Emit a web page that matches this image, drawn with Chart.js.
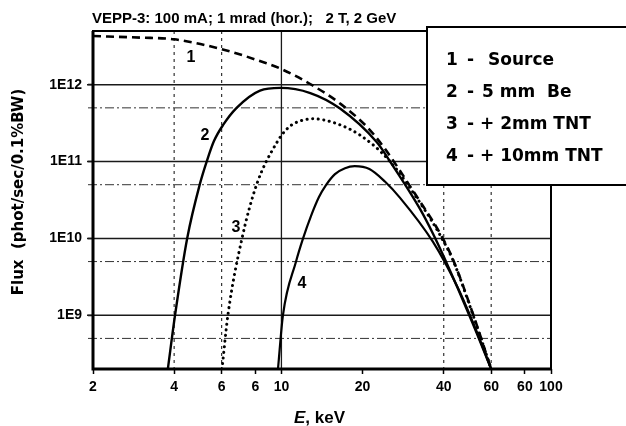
<!DOCTYPE html>
<html><head><meta charset="utf-8">
<script src="https://cdn.jsdelivr.net/npm/chart.js@4.4.1/dist/chart.umd.min.js"></script>
<style>html,body{margin:0;padding:0;background:#fff}canvas{display:block}</style>
</head><body>
<canvas id="c" width="626" height="426"></canvas>
<script>
// ---- text ----
const titleText = 'VEPP-3: 100 mA; 1 mrad (hor.);   2 T, 2 GeV';
const yTitle = 'Flux  (phot/sec/0.1%BW)';
const xTitleItalic = 'E';
const xTitleRest = ', keV';
const xTickValues = [2, 4, 6, 8, 10, 20, 40, 60, 80, 100];
const xTickLabels = ['2', '4', '6', '6', '10', '20', '40', '60', '60', '100'];
const yMajorTicks = [1e9, 1e10, 1e11, 1e12];
const yMajorLabels = ['1E9', '1E10', '1E11', '1E12'];
const yMinorGrid = [5e8, 5e9, 5e10, 5e11];
const xSolidGrid = [10];
const xDashGrid = [4, 6, 40, 60];
const legendNums = ['1', '2', '3', '4'];
const legendTexts = ['Source', '5 mm  Be', '+ 2mm TNT', '+ 10mm TNT'];
const curveNums = ['1', '2', '3', '4'];

// ---- data (E in keV, flux in phot/sec/0.1%BW) ----
const e1 = [2, 3, 4, 6, 8.8, 10, 13.1, 16.5, 21.9, 32.7, 39.4, 43.3, 51.4, 60];
const f1 = [4.3e12, 4.1e12, 3.9e12, 2.9e12, 1.9e12, 1.6e12, 9.7e11, 5.7e11, 2.3e11, 3.0e10, 1.05e10, 5.3e9, 1.03e9, 2.0e8];
const e2 = [3.79, 4.03, 4.47, 4.99, 5.3, 5.62, 6.07, 6.82, 8.33, 9.9, 12.8, 16.5, 22.6, 25.3, 32.7, 36.5, 40, 50.9, 60];
const f2 = [2.0e8, 1.0e9, 1.0e10, 5.2e10, 1.04e11, 1.85e11, 2.98e11, 5.0e11, 8.4e11, 9.1e11, 7.8e11, 4.9e11, 1.78e11, 1.0e11, 2.4e10, 1.15e10, 5.8e9, 8.3e8, 2.0e8];
const e3 = [6.02, 6.33, 7.14, 8.12, 9.63, 10.3, 11.04, 13.1, 16.1, 19.6, 25, 32.7, 39.4, 43.3, 51.4, 60];
const f3 = [2.0e8, 1.0e9, 1.0e10, 5.2e10, 1.79e11, 2.49e11, 3.07e11, 3.6e11, 3.1e11, 2.2e11, 1.05e11, 2.9e10, 1.0e10, 5.2e9, 1.0e9, 2.0e8];
const e4 = [9.71, 10.13, 11.33, 12.03, 12.87, 13.78, 14.63, 15.8, 17.21, 18.7, 21.2, 24.2, 27.5, 36.5, 44.8, 51.4, 60];
const f4 = [2.0e8, 1.0e9, 5.0e9, 1.0e10, 1.95e10, 3.45e10, 4.94e10, 6.87e10, 8.2e10, 8.7e10, 8.0e10, 5.5e10, 3.4e10, 9.0e9, 2.4e9, 8.0e8, 2.0e8];

const pts = (xs, ys) => xs.map((v, i) => ({x: v, y: ys[i]}));
const FONT = "'Liberation Sans', Arial, sans-serif";
const WIDE = "'DejaVu Sans', 'Liberation Sans', sans-serif";

const deco = {
  id: 'deco',
  beforeDatasetsDraw(chart) {
    const {ctx, chartArea: a, scales: {x, y}} = chart;
    ctx.save();
    ctx.strokeStyle = '#1a1a1a'; ctx.lineWidth = 1.5; ctx.setLineDash([]);
    yMajorTicks.forEach(v => {
      const p = y.getPixelForValue(v);
      ctx.beginPath(); ctx.moveTo(a.left - 6, p); ctx.lineTo(a.right, p); ctx.stroke();
    });
    ctx.strokeStyle = '#333'; ctx.lineWidth = 1; ctx.setLineDash([9, 3, 2, 3]);
    yMinorGrid.forEach(v => {
      const p = y.getPixelForValue(v);
      ctx.beginPath(); ctx.moveTo(a.left - 5, p); ctx.lineTo(a.right, p); ctx.stroke();
    });
    ctx.strokeStyle = '#1a1a1a'; ctx.lineWidth = 1.3; ctx.setLineDash([]);
    xSolidGrid.forEach(v => {
      const p = x.getPixelForValue(v);
      ctx.beginPath(); ctx.moveTo(p, a.top); ctx.lineTo(p, a.bottom); ctx.stroke();
    });
    ctx.strokeStyle = '#333'; ctx.lineWidth = 1.2; ctx.setLineDash([3, 4]);
    xDashGrid.forEach(v => {
      const p = x.getPixelForValue(v);
      ctx.beginPath(); ctx.moveTo(p, a.top); ctx.lineTo(p, a.bottom); ctx.stroke();
    });
    ctx.restore();
  },
  afterDatasetsDraw(chart) {
    const {ctx, chartArea: a} = chart;
    ctx.save();
    ctx.setLineDash([]);
    ctx.strokeStyle = '#000';
    ctx.lineWidth = 2; ctx.strokeRect(a.left, a.top, a.right - a.left, a.bottom - a.top);
    ctx.lineWidth = 3;
    ctx.beginPath(); ctx.moveTo(a.left, a.top); ctx.lineTo(a.left, a.bottom); ctx.lineTo(a.right, a.bottom); ctx.stroke();

    ctx.fillStyle = '#000';
    ctx.font = 'bold 16px ' + FONT;
    ctx.textAlign = 'center'; ctx.textBaseline = 'middle';
    const lp = [[191, 58], [205, 136], [236, 228], [302, 284]];
    curveNums.forEach((t, i) => ctx.fillText(t, lp[i][0], lp[i][1]));

    ctx.fillStyle = '#fff';
    ctx.fillRect(427, 27, 210, 158);
    ctx.strokeStyle = '#000'; ctx.lineWidth = 2;
    ctx.strokeRect(427, 27, 210, 158);
    ctx.fillStyle = '#000';
    ctx.font = 'bold 17px ' + WIDE;
    ctx.textAlign = 'left'; ctx.textBaseline = 'alphabetic';
    const rowsY = [65, 97, 129, 161];
    const textX = [488, 482, 480, 480];
    legendNums.forEach((n, i) => {
      ctx.fillText(n, 446, rowsY[i]);
      ctx.fillText('-', 467, rowsY[i]);
      ctx.fillText(legendTexts[i], textX[i], rowsY[i]);
    });

    ctx.font = 'bold 15px ' + FONT;
    ctx.fillText(titleText, 92, 23);

    ctx.font = 'italic bold 17px ' + FONT;
    ctx.fillText(xTitleItalic, 294, 423);
    const w = ctx.measureText(xTitleItalic).width;
    ctx.font = 'bold 17px ' + FONT;
    ctx.fillText(xTitleRest, 294 + w, 423);

    ctx.translate(19, 192);
    ctx.rotate(-Math.PI / 2);
    ctx.font = 'bold 15px ' + WIDE;
    ctx.textAlign = 'center'; ctx.textBaseline = 'middle';
    ctx.fillText(yTitle, 0, 0);
    ctx.restore();
  }
};

const lineStyle = {borderColor: '#000', pointRadius: 0, cubicInterpolationMode: 'monotone', fill: false};

new Chart(document.getElementById('c'), {
  type: 'line',
  data: {
    datasets: [
      Object.assign({data: pts(e1, f1), borderWidth: 2.6, borderDash: [8, 5]}, lineStyle),
      Object.assign({data: pts(e2, f2), borderWidth: 2.4}, lineStyle),
      Object.assign({data: pts(e3, f3), borderWidth: 3, borderDash: [0.1, 5.5], borderCapStyle: 'round'}, lineStyle),
      Object.assign({data: pts(e4, f4), borderWidth: 2.2}, lineStyle)
    ]
  },
  options: {
    responsive: false,
    animation: false,
    devicePixelRatio: 1,
    layout: {padding: {left: 0, top: 31, right: 75, bottom: 0}},
    plugins: {legend: {display: false}, tooltip: {enabled: false}, title: {display: false}},
    scales: {
      x: {
        type: 'logarithmic', min: 2, max: 100,
        afterBuildTicks: s => { s.ticks = xTickValues.map(v => ({value: v})); },
        afterFit: s => { s.height = 57; },
        ticks: {callback: (v, i) => xTickLabels[i], autoSkip: false, maxRotation: 0, color: '#000', padding: 5,
                font: {family: FONT, weight: 'bold', size: 14}},
        grid: {drawOnChartArea: false, drawTicks: true, tickLength: 5, tickColor: '#000', tickWidth: 1.5},
        border: {display: false}
      },
      y: {
        type: 'logarithmic', min: 2e8, max: 5e12,
        afterBuildTicks: s => { s.ticks = yMajorTicks.map(v => ({value: v})); },
        afterFit: s => { s.width = 93; },
        ticks: {callback: (v, i) => yMajorLabels[i], autoSkip: false, color: '#000', padding: 6,
                font: {family: FONT, weight: 'bold', size: 14}},
        grid: {drawOnChartArea: false, drawTicks: true, tickLength: 5, tickColor: '#000', tickWidth: 1.5},
        border: {display: false}
      }
    }
  },
  plugins: [deco]
});
</script>
</body></html>
